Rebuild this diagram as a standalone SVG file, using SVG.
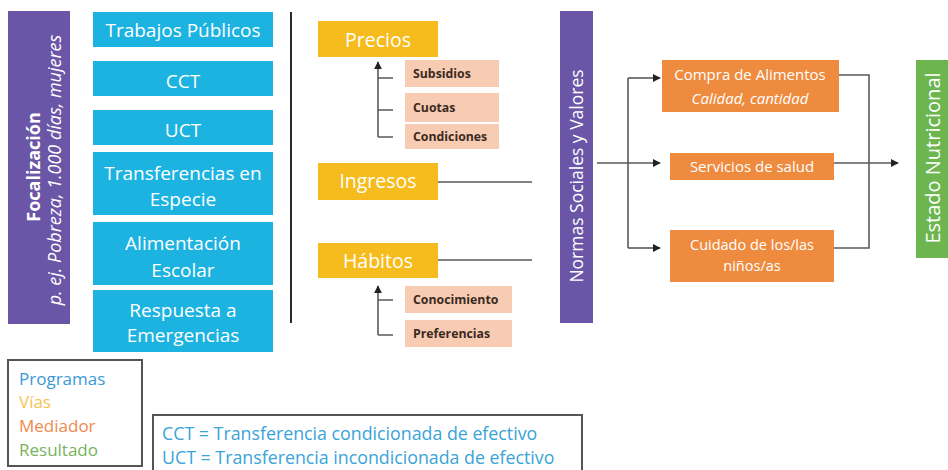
<svg xmlns="http://www.w3.org/2000/svg" width="948" height="470" viewBox="0 0 948 470">
<style>
text{font-family:"Open Sans","Liberation Sans",sans-serif}
.purple{fill:#6a55a6}
.blue{fill:#1cb3e1}
.yellow{fill:#f6bb1c}
.salmon{fill:#f8ccb2}
.orange{fill:#ef8b3f}
.green{fill:#6cb54f}
.wt{fill:#ffffff;text-anchor:middle}
.bt{font-size:19px}
.yt{font-size:19.5px}
.st{fill:#3b2a22;font-size:12.3px;font-weight:bold}
.ot{font-size:15px}
.con{fill:none;stroke:#5a5a5a;stroke-width:1.6}
.legbox{fill:none;stroke:#555555;stroke-width:2}
</style>
<defs>
<marker id="ah" viewBox="0 0 10 10" refX="9" refY="5" markerWidth="5" markerHeight="5" orient="auto">
<path d="M0,0 L10,5 L0,10 z" fill="#222222"/>
</marker>
</defs>
<rect width="948" height="470" fill="#ffffff"/>

<g id="focalizacion">
<rect class="purple" x="8" y="11" width="62" height="313"/>
<text class="wt" transform="translate(40,167) rotate(-90)" font-size="18" font-weight="bold">Focalización</text>
<text class="wt" transform="translate(61,170) rotate(-90)" font-size="18" font-style="italic">p. ej. Pobreza, 1.000 días, mujeres</text>
</g>

<g id="trabajos-publicos">
<rect class="blue" x="93" y="12" width="180" height="35"/>
<text class="wt bt" x="183" y="37">Trabajos Públicos</text>
</g>
<g id="cct">
<rect class="blue" x="93" y="61" width="180" height="35"/>
<text class="wt bt" x="183" y="88">CCT</text>
</g>
<g id="uct">
<rect class="blue" x="93" y="110" width="180" height="35"/>
<text class="wt bt" x="183" y="137">UCT</text>
</g>
<g id="transferencias-especie">
<rect class="blue" x="93" y="152" width="180" height="63"/>
<text class="wt bt" x="183" y="180">Transferencias en</text>
<text class="wt bt" x="183" y="206">Especie</text>
</g>
<g id="alimentacion-escolar">
<rect class="blue" x="93" y="222" width="180" height="63"/>
<text class="wt bt" x="183" y="250">Alimentación</text>
<text class="wt bt" x="183" y="277">Escolar</text>
</g>
<g id="respuesta-emergencias">
<rect class="blue" x="93" y="290" width="180" height="62"/>
<text class="wt bt" x="183" y="317">Respuesta a</text>
<text class="wt bt" x="183" y="342">Emergencias</text>
</g>

<g id="precios">
<rect class="yellow" x="318" y="21" width="120" height="36"/>
<text class="wt yt" x="378" y="47">Precios</text>
</g>
<g id="subsidios">
<rect class="salmon" x="405" y="60" width="94" height="27"/>
<text class="st" x="413" y="78">Subsidios</text>
</g>
<g id="cuotas">
<rect class="salmon" x="405" y="93" width="94" height="29"/>
<text class="st" x="413" y="112">Cuotas</text>
</g>
<g id="condiciones">
<rect class="salmon" x="405" y="124" width="94" height="25"/>
<text class="st" x="413" y="141">Condiciones</text>
</g>
<g id="ingresos">
<rect class="yellow" x="318" y="163" width="120" height="37"/>
<text class="wt yt" x="378" y="188">Ingresos</text>
</g>
<g id="habitos">
<rect class="yellow" x="318" y="243" width="120" height="35"/>
<text class="wt yt" x="378" y="268">Hábitos</text>
</g>
<g id="conocimiento">
<rect class="salmon" x="405" y="286" width="107" height="27"/>
<text class="st" x="413" y="304">Conocimiento</text>
</g>
<g id="preferencias">
<rect class="salmon" x="405" y="320" width="107" height="27"/>
<text class="st" x="413" y="338">Preferencias</text>
</g>

<g id="normas">
<rect class="purple" x="560" y="11" width="33" height="312"/>
<text class="wt" transform="translate(583,176) rotate(-90)" font-size="17.5">Normas Sociales y Valores</text>
</g>

<g id="compra-alimentos">
<rect class="orange" x="662" y="60" width="177" height="52"/>
<text class="wt ot" x="750" y="80">Compra de Alimentos</text>
<text class="wt ot" x="750" y="104" font-style="italic">Calidad, cantidad</text>
</g>
<g id="servicios-salud">
<rect class="orange" x="670" y="153" width="164" height="27"/>
<text class="wt ot" x="752" y="172">Servicios de salud</text>
</g>
<g id="cuidado">
<rect class="orange" x="670" y="230" width="164" height="52"/>
<text class="wt" x="752" y="250" font-size="14.5">Cuidado de los/las</text>
<text class="wt" x="752" y="271" font-size="14.5">niños/as</text>
</g>

<g id="estado-nutricional">
<rect class="green" x="916" y="60" width="32" height="198"/>
<text class="wt" transform="translate(940,158) rotate(-90)" font-size="20">Estado Nutricional</text>
</g>

<g id="connectors">
<line x1="291" y1="12" x2="291" y2="323" stroke="#2a2a2a" stroke-width="2"/>
<path class="con" d="M378,137 L378,62" marker-end="url(#ah)"/>
<path class="con" d="M378,78 H393 M378,110 H393 M378,137 H393"/>
<path class="con" d="M438,182 H532"/>
<path class="con" d="M438,260 H532"/>
<path class="con" d="M378,335 L378,286" marker-end="url(#ah)"/>
<path class="con" d="M378,300 H393 M378,335 H393"/>
<path class="con" d="M597,163 H660" marker-end="url(#ah)"/>
<path class="con" d="M628,78 H660" marker-end="url(#ah)"/>
<path class="con" d="M628,78 V248"/>
<path class="con" d="M628,248 H660" marker-end="url(#ah)"/>
<path class="con" d="M839,75 H869 V248 H834"/>
<path class="con" d="M834,163 H898" marker-end="url(#ah)"/>
</g>

<g id="legend">
<rect class="legbox" x="8" y="360" width="134" height="106"/>
<text x="19" y="385" font-size="17" fill="#3a9ad4">Programas</text>
<text x="19" y="408" font-size="17" fill="#f7c452">Vías</text>
<text x="19" y="432" font-size="17" fill="#ee8a4d">Mediador</text>
<text x="19" y="456" font-size="17" fill="#78b35a">Resultado</text>
<rect class="legbox" x="153" y="415" width="429" height="62"/>
<text x="162" y="440" font-size="17.8" fill="#3aa3d8">CCT = Transferencia condicionada de efectivo</text>
<text x="162" y="464" font-size="17.8" fill="#3aa3d8">UCT = Transferencia incondicionada de efectivo</text>
</g>
</svg>
